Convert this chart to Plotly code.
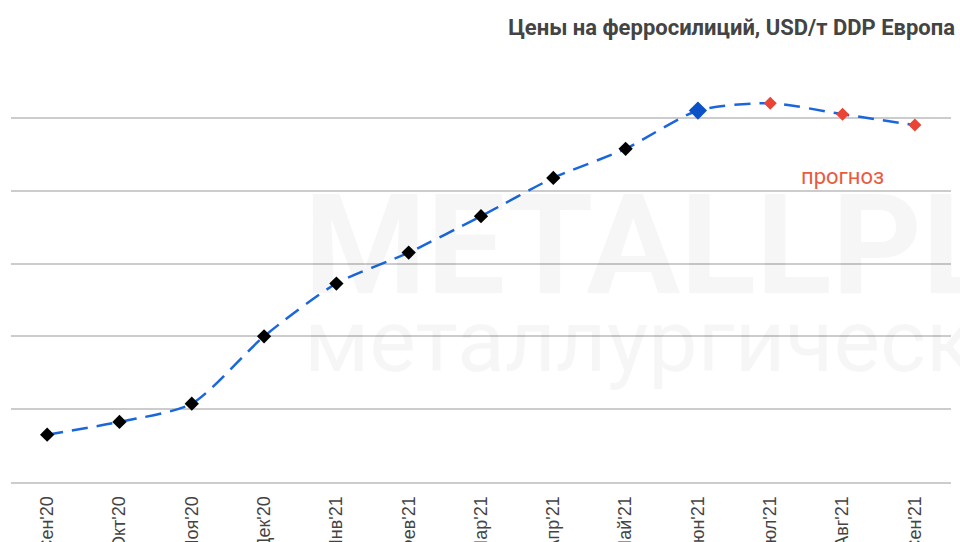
import plotly.graph_objects as go

months = ["Сен'20", "Окт'20", "Ноя'20", "Дек'20", "Янв'21", "Фев'21", "Мар'21",
          "Апр'21", "Май'21", "Июн'21", "Июл'21", "Авг'21", "Сен'21"]
prices = [1130, 1165, 1215, 1400, 1545, 1630, 1730, 1835, 1915, 2020, 2040, 2010, 1980]
marker_colors = ["#000000"] * 9 + ["#0b52c8"] + ["#e94436"] * 3
marker_sizes = [11] * 9 + [14] + [10] * 3

title_text = "Цены на ферросилиций, USD/т DDP Европа"
forecast_label = "прогноз"
grid_values = [1000, 1200, 1400, 1600, 1800, 2000, 2200]

fig = go.Figure()

fig.add_trace(go.Scatter(
    x=months, y=prices,
    mode="lines+markers",
    line=dict(color="#1a66dd", width=2.5, dash="16px,9px", shape="spline", smoothing=0.7),
    marker=dict(symbol="diamond", color=marker_colors, size=marker_sizes,
                opacity=1, line=dict(width=0)),
    showlegend=False,
))

# faint watermark
fig.add_annotation(xref="paper", yref="paper", x=(302 - 11) / 940, y=(482 - 245) / 437,
                   xanchor="left", yanchor="middle", text="<b>METALLPLANT</b>", showarrow=False,
                   font=dict(family="Liberation Sans Narrow, Roboto", size=140,
                             color="rgba(0,0,0,0.035)"))
fig.add_annotation(xref="paper", yref="paper", x=(302 - 11) / 940, y=(482 - 340) / 437,
                   xanchor="left", yanchor="middle", text="металлургический", showarrow=False,
                   font=dict(family="Roboto", size=88, color="rgba(0,0,0,0.035)"))

fig.add_annotation(x="Авг'21", y=1840, text=forecast_label, showarrow=False,
                   font=dict(family="Roboto", size=22, color="#ea5a3f"))

fig.update_layout(
    width=960, height=542,
    margin=dict(l=11, r=9, t=45, b=60),
    paper_bgcolor="white", plot_bgcolor="white",
    title=dict(text="<b>" + title_text + "</b>", x=955 / 960, xanchor="right",
               y=1 - 27 / 542, yanchor="middle", xref="container", yref="container",
               font=dict(family="Roboto", size=22, color="#444444")),
    xaxis=dict(
        type="category", categoryorder="array", categoryarray=months,
        showgrid=False, showline=True, linecolor="#cccccc", linewidth=2,
        tickangle=-90, ticks="", automargin=False, ticklabelstandoff=5,
        tickfont=dict(family="Liberation Sans, Arial", size=18, color="#444444"),
        range=[-0.5, len(months) - 0.5],
    ),
    yaxis=dict(
        range=[1000, 2200], tickvals=grid_values, showticklabels=False,
        showgrid=True, gridcolor="#cccccc", gridwidth=2, zeroline=False,
        automargin=False,
    ),
)

fig.write_html("out.html", config={"displayModeBar": False},
               post_script="document.body.style.margin='0px';document.body.style.overflow='hidden';")
